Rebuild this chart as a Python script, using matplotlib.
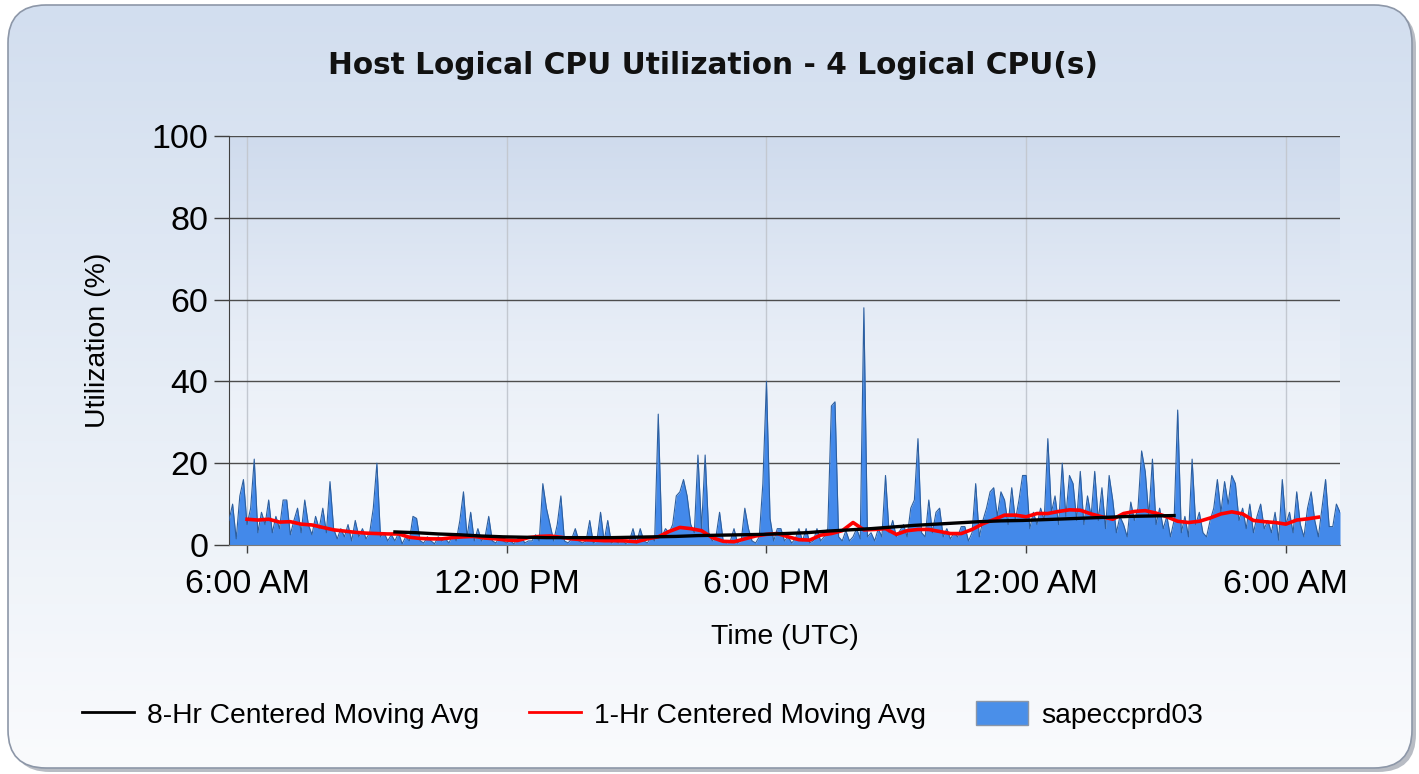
import matplotlib
matplotlib.use('Agg')
import matplotlib.pyplot as plt
import matplotlib.dates as mdates
from matplotlib.colors import LinearSegmentedColormap
from matplotlib.patches import FancyBboxPatch, Patch
from matplotlib.lines import Line2D
from matplotlib.ticker import FuncFormatter
import numpy as np
import pandas as pd

plt.rcParams['font.family'] = ['Liberation Sans', 'DejaVu Sans']

# 1) 데이터 (5분 간격, 05:35 ~ 익일 07:15)
cpu_start = '2015-06-01 05:35'
cpu_util = [
    6, 10, 1.5, 12, 16, 5, 9, 21, 3, 8, 5, 11,
    3, 7, 4, 11, 11, 2.5, 6, 9, 3, 11, 5, 2.5,
    7, 4, 9, 3, 15.5, 4, 1.5, 4, 2, 5, 1, 6,
    2, 4, 1.5, 3, 9, 20, 2, 3, 1, 2.5, 1, 3,
    0.3, 2, 1, 7, 6.5, 1, 0.5, 2, 1, 0.3, 2, 1,
    1.5, 0.5, 2.5, 1, 6, 13, 2, 8, 1, 4, 1, 2,
    7, 1, 0.5, 2, 1, 0.5, 1, 0.3, 1.5, 2, 0.5, 1,
    1, 2.5, 1, 15, 9, 5, 1, 5, 12, 1, 0.5, 1.5,
    4, 1, 0.5, 1, 6, 0.5, 1, 8, 1, 6, 0.5, 1,
    0.5, 1.5, 0.3, 1, 4, 0.5, 4, 1, 0.5, 2, 1, 32,
    2, 4, 3, 5, 12, 13, 16, 12, 5, 3, 22, 4,
    22, 3, 1, 2, 8, 1, 0.5, 1, 4, 0.5, 1, 9,
    4, 1, 0.5, 2, 15, 40, 6.5, 1, 4, 4, 1, 2,
    0.5, 1.5, 4, 1, 4, 0.5, 1, 4, 1, 2, 4, 34,
    35, 2, 1, 3.5, 1, 2, 4, 1.5, 58, 2, 3, 1,
    4, 2, 17, 3, 6, 2, 3.5, 5, 2, 9, 11, 26,
    3, 2, 11, 3, 8, 9, 2, 4, 1.5, 3, 2, 4.5,
    4.5, 1, 3, 15, 2, 6, 9, 13, 14, 7, 13, 11,
    5, 14, 6, 11, 17, 17, 4, 8, 5, 9, 6, 26,
    8, 12, 5, 20, 7, 17, 15, 6, 18, 5, 12, 7,
    18, 6, 14, 4, 17, 11, 3, 7, 5, 2, 10.5, 6,
    9, 23, 18, 7, 21, 5, 9, 4, 7, 2, 6, 33,
    3, 7, 2, 21, 5, 8, 3, 2, 6, 9, 16, 8,
    15.5, 10, 17, 15, 6, 9, 4, 10, 3, 7, 10, 4,
    6, 3, 8, 1.2, 16, 5, 8, 3, 13, 5, 2, 9,
    13, 6, 2, 9, 16, 4.5, 4.5, 10, 8,
]

# 1시간 이동평균 (15분 간격, 06:00 ~ 익일 06:45)
ma1_start = '2015-06-01 06:00'
ma1_hr = [
    6.3, 6.1, 6.3, 5.6,  5.7, 5.1, 4.9, 4.3,  3.7, 3.4, 3.1, 2.9,
    2.8, 2.7, 2.7, 1.9,  1.6, 1.5, 1.5, 1.8,  2.0, 2.1, 1.7, 1.5,
    1.2, 1.1, 1.8, 2.1,  2.2, 1.9, 1.5, 1.3,  1.2, 1.05, 1.05, 1.0,
    0.8, 1.5, 2.0, 3.3,  4.3, 4.0, 3.5, 1.8,  0.9, 0.8, 1.5, 2.2,
    2.6, 2.8, 2.0, 1.3,  1.2, 2.4, 2.8, 3.5,  5.5, 3.7, 3.8, 4.0,
    2.6, 3.5, 3.8, 3.8,  3.3, 2.8, 2.8, 3.8,  5.2, 6.2, 7.3, 7.3,
    6.9, 7.7, 7.7, 8.2,  8.6, 8.5, 7.6, 6.9,  6.3, 7.7, 8.2, 8.4,
    7.8, 6.9, 5.8, 5.5,  5.8, 6.6, 7.6, 8.1,  7.6, 6.0, 5.7, 5.5,
    5.1, 6.1, 6.4, 6.8,
]

# 8시간 이동평균 (30분 간격, 09:25 ~ 익일 03:25)
ma8_start = '2015-06-01 09:25'
ma8_hr = [
    3.2, 3.0, 2.7, 2.5, 2.2, 2.0, 1.9, 1.8, 1.8, 1.8,
    1.8, 1.9, 2.0, 2.1, 2.3, 2.4, 2.5, 2.6, 2.8, 3.0,
    3.4, 3.7, 4.0, 4.4, 4.8, 5.1, 5.4, 5.7, 5.9, 6.0,
    6.2, 6.4, 6.6, 6.8, 7.0, 7.1, 7.2,
]

host_name = 'sapeccprd03'
y_ticks = [0, 20, 40, 60, 80, 100]

cpu_time = pd.date_range(cpu_start, periods=len(cpu_util), freq='5min')
ma1_time = pd.date_range(ma1_start, periods=len(ma1_hr), freq='15min')
ma8_time = pd.date_range(ma8_start, periods=len(ma8_hr), freq='30min')

# 2) 그림 + 둥근 배경 패널
W, H = 1419, 774
fig = plt.figure(figsize=(W / 100, H / 100), dpi=100)
fig.patch.set_facecolor('white')

bg = fig.add_axes([0, 0, 1, 1], zorder=-10)
bg.set_xlim(0, W)
bg.set_ylim(H, 0)
bg.axis('off')

shadow = FancyBboxPatch((12, 9), 1404, 763, boxstyle='round,pad=0,rounding_size=38',
                        fc='#b8bcc4', ec='none')
bg.add_patch(shadow)
panel = FancyBboxPatch((8, 5), 1404, 763, boxstyle='round,pad=0,rounding_size=38',
                       fc='none', ec='#8d97a8', lw=1.2, zorder=3)
bg.add_patch(panel)
panel_cmap = LinearSegmentedColormap.from_list('panel', ['#d2deef', '#e6edf6', '#fafbfd'])
grad = np.linspace(0, 1, 256).reshape(-1, 1)
im = bg.imshow(grad, cmap=panel_cmap, extent=[8, 1412, 768, 5], origin='upper',
               aspect='auto', zorder=2)
im.set_clip_path(panel)

# 3) 플롯 영역
ax = fig.add_axes([229 / W, 1 - 545 / H, (1340 - 229) / W, (545 - 136) / H])
ax.set_facecolor('none')
x0 = mdates.date2num(cpu_time[0])
x1 = mdates.date2num(cpu_time[-1])
plot_cmap = LinearSegmentedColormap.from_list('plot', ['#cfdbed', '#e8eef7', '#f8fafd'])
ax.imshow(grad, cmap=plot_cmap, extent=[x0, x1, 0, 100], origin='upper',
          aspect='auto', zorder=-1)

ax.fill_between(cpu_time, cpu_util, 0, color='#4389ea', lw=0, zorder=2)
ax.plot(cpu_time, cpu_util, color='#2d5f9f', lw=0.8, zorder=3)
ax.plot(ma1_time, ma1_hr, color='#ff0000', lw=2.6, zorder=4)
ax.plot(ma8_time, ma8_hr, color='black', lw=2.4, zorder=5)

ax.set_xlim(x0, x1)
ax.set_ylim(0, 100)
ax.set_yticks(y_ticks)

ax.xaxis.set_major_locator(mdates.HourLocator(byhour=[0, 6, 12, 18]))
ax.xaxis.set_major_formatter(FuncFormatter(
    lambda v, p: mdates.num2date(v).strftime('%I:%M %p').lstrip('0')))

ax.set_axisbelow(True)
ax.grid(axis='y', color='#4d4d4d', lw=1)
ax.grid(axis='x', color='#c3c8d0', lw=1)
for s in ['top', 'right']:
    ax.spines[s].set_visible(False)
ax.spines['left'].set_color('#404040')
ax.spines['bottom'].set_color('#7a7a7a')

ax.tick_params(axis='y', length=11, width=1, color='#404040', pad=4, labelsize=24.5)
ax.tick_params(axis='x', length=6, width=1, color='#404040', pad=11, labelsize=24.5)

ax.set_ylabel('Utilization (%)', fontsize=20.5)
ax.yaxis.set_label_coords(-0.106, 0.5)
ax.set_xlabel('Time (UTC)', fontsize=20.5)
ax.xaxis.set_label_coords(0.5, -0.192)

fig.text(713 / W, 1 - 65 / H, 'Host Logical CPU Utilization - 4 Logical CPU(s)',
         ha='center', va='center', fontsize=21.3, fontweight='bold',
         family=['DejaVu Sans'], color='#111111')

# 4) 범례
handles = [
    Line2D([], [], color='black', lw=2),
    Line2D([], [], color='#ff0000', lw=2),
    Patch(facecolor='#4a8fe9', edgecolor='#8a96a8'),
]
labels = ['8-Hr Centered Moving Avg', '1-Hr Centered Moving Avg', host_name]
fig.legend(handles, labels, loc='center left', bbox_to_anchor=(82 / W, 1 - 715 / H),
           ncol=3, frameon=False, fontsize=20.3, handlelength=1.85, handleheight=0.9,
           handletextpad=0.45, columnspacing=1.78, borderpad=0, borderaxespad=0)

plt.savefig('out.png', dpi=100)
